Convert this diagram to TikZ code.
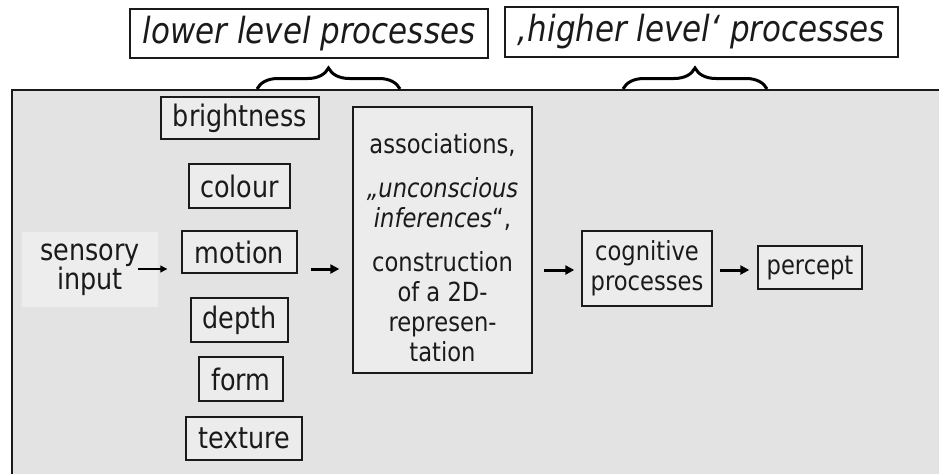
\documentclass[tikz,border=0pt]{standalone}
\usepackage{fontspec}
\setmainfont{DejaVu Sans}[FakeStretch=0.86]
\usetikzlibrary{arrows.meta,decorations.pathreplacing}
\definecolor{panel}{HTML}{E3E3E3}
\definecolor{boxfill}{HTML}{ECECEC}
\definecolor{sensfill}{HTML}{EDEDED}
\definecolor{ink}{HTML}{1A1A1A}
\begin{document}
\begin{tikzpicture}[x=1pt,y=-1pt,
  every node/.style={text=ink},
  bigfont/.style={font=\fontsize{29.6}{29}\selectfont},
  midfont/.style={font=\fontsize{26.3}{30}\selectfont},
  featbox/.style={draw=ink,line width=1.4pt,fill=boxfill,bigfont,inner sep=0pt,anchor=center},
  procbox/.style={draw=ink,line width=1.4pt,fill=boxfill,midfont,inner sep=0pt,align=center},
  titlebox/.style={draw=ink,line width=1.2pt,fill=white,inner sep=0pt,font=\fontsize{36}{38}\selectfont\itshape},
  thinarrow/.style={line width=1.3pt,-{Triangle[length=7pt,width=7pt]}},
  thickarrow/.style={line width=3pt,-{Triangle[length=9pt,width=9pt]}},
  bracestyle/.style={decorate,decoration={brace,amplitude=21pt},line width=3pt}
]
\useasboundingbox (0,0) rectangle (939,474);
\fill[white] (0,0) rectangle (939,474);
% panel
\fill[panel] (12,90) rectangle (939,474);
\draw[ink,line width=1.5pt] (939,90) -- (12,90) -- (12,474);

% titles
\node[titlebox,minimum width=358pt,minimum height=49pt] (lower) at (309,33.5) {lower level processes};
\node[titlebox,minimum width=393pt,minimum height=50pt] (higher) at (701.5,32) {‚higher level‘ processes};

% braces
\coordinate (b1l) at (257,89);
\coordinate (b1r) at (400,89);
\coordinate (b2l) at (623,89);
\coordinate (b2r) at (767,89);
\draw[bracestyle] (b1l) -- (b1r);
\draw[bracestyle] (b2l) -- (b2r);

% sensory input
\node[fill=sensfill,bigfont,align=center,minimum width=136pt,minimum height=75pt,inner sep=0pt] (sens) at (90,269.5) {sensory\\input};
\coordinate (sensout) at (138,269);

% feature boxes
\node[featbox,minimum width=158pt,minimum height=42pt] (bright) at (240,118) {brightness};
\node[featbox,minimum width=101pt,minimum height=44pt] (colour) at (239.5,186) {colour};
\node[featbox,minimum width=115pt,minimum height=42pt] (motion) at (239.5,252) {motion};
\node[featbox,minimum width=97pt,minimum height=44pt] (depth) at (239.5,320) {depth};
\node[featbox,minimum width=84pt,minimum height=44pt] (form) at (241,379) {form};
\node[featbox,minimum width=116pt,minimum height=43pt] (texture) at (244,438.5) {texture};

% association box
\node[draw=ink,line width=1.4pt,fill=boxfill,minimum width=179pt,minimum height=266pt,inner sep=0pt] (assoc) at (442.5,240) {};
\node[midfont,align=center,inner sep=0pt] (assoctxt) at (442.5,248) {associations,\\[14pt]\textit{„unconscious}\\\textit{inferences}“,\\[14pt]construction\\of a 2D-\\represen-\\tation};

% cognitive and percept
\node[procbox,minimum width=130pt,minimum height=75pt] (cog) at (647,268.5) {cognitive\\processes};
\node[procbox,minimum width=104pt,minimum height=43pt] (percept) at (810,267.5) {percept};

% arrows
\draw[thinarrow] (sensout) -- ([xshift=-14pt]motion.west |- sensout);
\draw[thickarrow] ([xshift=13pt]motion.east |- 0,269) -- ([xshift=-13pt]assoc.west |- 0,269);
\draw[thickarrow] ([xshift=11pt]assoc.east |- 0,270) -- ([xshift=-7pt]cog.west |- 0,270);
\draw[thickarrow] ([xshift=7pt]cog.east |- 0,270) -- ([xshift=-8pt]percept.west |- 0,270);
\end{tikzpicture}
\end{document}
